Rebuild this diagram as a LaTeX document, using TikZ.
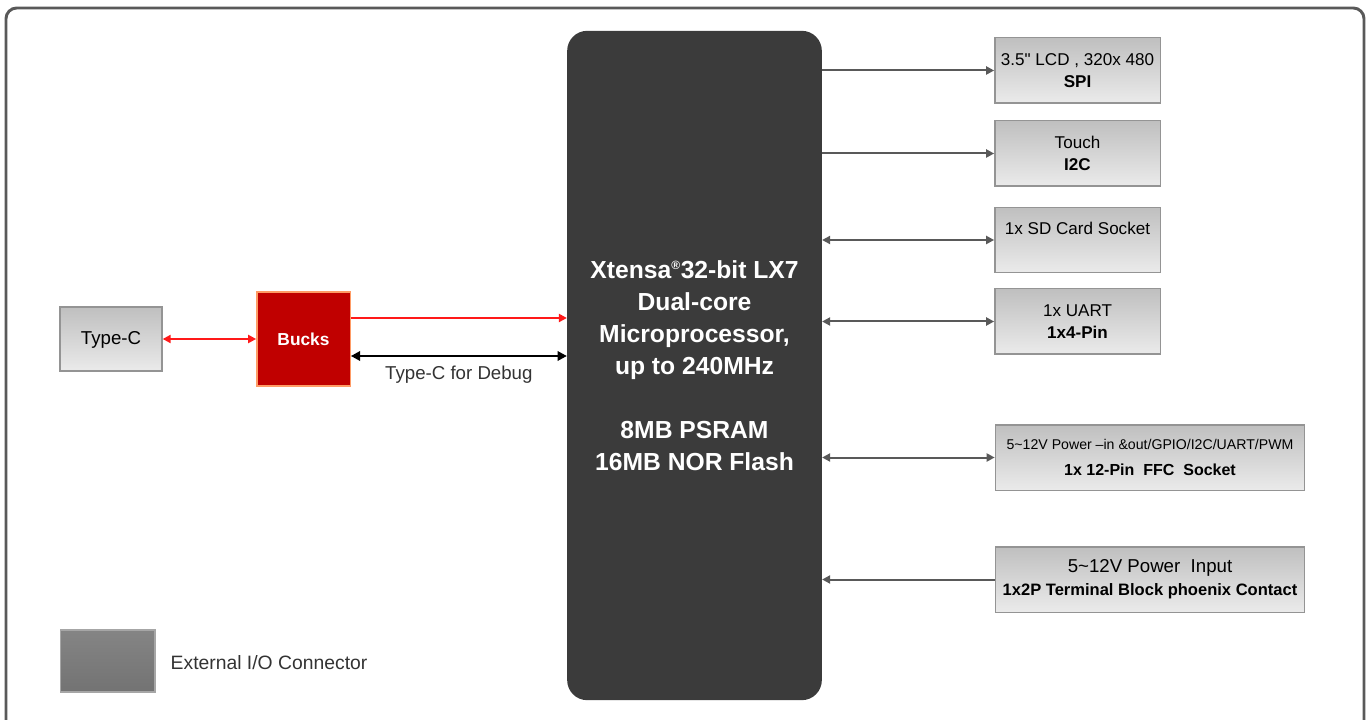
\documentclass[tikz,border=0pt]{standalone}
\usepackage{fontspec}
\setmainfont{Liberation Sans}
\newfontfamily\rawsans{Liberation Sans}
\usetikzlibrary{positioning,arrows.meta,calc}

\definecolor{cpugray}{HTML}{3B3B3B}
\definecolor{buckred}{HTML}{C00000}
\definecolor{linkgray}{HTML}{595959}

\begin{document}
\begin{tikzpicture}[
          x=0.75pt, y=-0.75pt,
          iobox/.style={draw=black!42, line width=1pt, top color=black!25, bottom color=black!8,
            align=center, inner sep=1pt, font=\fontsize{12.8}{17}\selectfont},
          small/.style={iobox, minimum width=124pt, minimum height=49pt},
          wide/.style={iobox, minimum width=232pt, minimum height=49pt},
          link/.style={line width=1.5pt, linkgray, -{Triangle[length=6pt,width=6pt]}},
          biLink/.style={line width=1.5pt, linkgray, {Triangle[length=6pt,width=6pt]}-{Triangle[length=6pt,width=6pt]}},
          pwr/.style={line width=1.5pt, red!90!white, -{Triangle[length=6pt,width=6pt]}},
          biPwr/.style={line width=1.5pt, red!90!white, {Triangle[length=6pt,width=6pt]}-{Triangle[length=6pt,width=6pt]}}
      ]
        \useasboundingbox (0,0) rectangle (1371,720);
        \draw[line width=2.2pt, black!65, rounded corners=8pt] (6,8) rectangle (1364,780);

        \node[fill=cpugray, rounded corners=15pt, minimum width=191pt, minimum height=502pt,
              text=white, align=center, font=\bfseries\fontsize{18.5}{24}\selectfont] (cpu) at (694.5,365.5)
          {\rule{0pt}{12pt}Xtensa\textsuperscript{\fontsize{9}{9}\selectfont\textregistered}32-bit LX7\\Dual-core\\Microprocessor,\\up to 240MHz\\[24pt]8MB PSRAM\\16MB NOR Flash};

        \node[iobox, minimum width=76.5pt, minimum height=48pt, font=\fontsize{14}{16}\selectfont] (typec) at (111,339) {\rule{0pt}{11pt}Type-C};
        \node[fill=buckred, draw=orange!70!red!60, line width=1pt, minimum width=70pt, minimum height=70.5pt,
              text=white, font=\bfseries\fontsize{13}{15}\selectfont] (bucks) at (303.5,339) {Bucks};

        \node[small] (lcd) at (1077.5,70.5) {3.5{\rawsans\symbol{34}} LCD , 320x 480\\\textbf{SPI}};
        \node[small] (touch) at (1077.5,153.5) {Touch\\\textbf{I2C}};
        \node[small] (sd) at (1077.5,240) {1x SD Card Socket\\~};
        \node[small] (uart) at (1077.5,321.5) {1x UART\\\textbf{1x4-Pin}};
        \node[wide] (ffc) at (1150,457.5)
          {{\fontsize{10.6}{12}\selectfont 5\textasciitilde12V Power –in \&out/GPIO/I2C/UART/PWM}\\[2pt]\textbf{\fontsize{12}{14}\selectfont 1x 12-Pin\ \ FFC\ \ Socket}};
        \node[wide] (pwrin) at (1150,579.5)
          {{\fontsize{14}{16}\selectfont 5\textasciitilde12V Power\ \ Input}\\\textbf{\fontsize{12.4}{15}\selectfont 1x2P Terminal Block phoenix Contact}};

        \node[iobox, top color=black!48, bottom color=black!55, draw=black!35, minimum width=71pt, minimum height=46.5pt] (legend) at (107.5,661) {};
        \node[anchor=west, font=\fontsize{14.5}{16}\selectfont, text=black!80] (legendtxt) at (166,663) {External I/O Connector};

        % power and debug path
        \draw[biPwr] (typec) -- (bucks);
        \coordinate (pwrA) at ([yshift=15.75pt]bucks.east);
        \coordinate (dbgA) at ([yshift=-12.75pt]bucks.east);
        \draw[pwr] (pwrA) -- (pwrA -| cpu.west);
        \draw[line width=2.2pt, black, {Triangle[length=7pt,width=7pt]}-{Triangle[length=7pt,width=7pt]}] (dbgA) -- (dbgA -| cpu.west)
          node[midway, below=3pt, font=\fontsize{14}{16}\selectfont, text=black!80] (dbglbl) {Type-C for Debug};

        % peripherals
        \draw[link] (cpu.east |- lcd) -- (lcd);
        \draw[link] (cpu.east |- touch) -- (touch);
        \draw[biLink] (cpu.east |- sd) -- (sd);
        \draw[biLink] (cpu.east |- uart) -- (uart);
        \draw[biLink] (cpu.east |- ffc) -- (ffc);
        \draw[link] (pwrin) -- (cpu.east |- pwrin);
      \end{tikzpicture}
\end{document}
